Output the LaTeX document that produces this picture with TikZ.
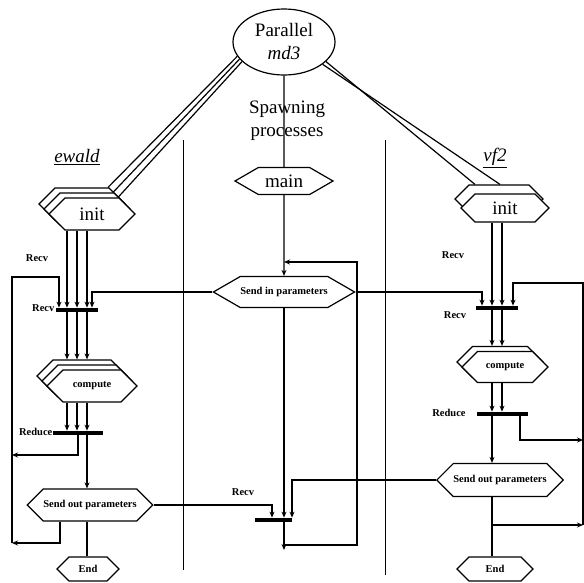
\documentclass[tikz,border=0pt]{standalone}
\usepackage{fontspec}
\setmainfont{Liberation Serif}
\usetikzlibrary{shapes.symbols, shapes.geometric, arrows.meta}
\newcommand{\largetxt}{\fontsize{19}{23}\selectfont}
\newcommand{\smalltxt}{\fontsize{10.5}{12}\selectfont\bfseries}

\begin{document}
\begin{tikzpicture}[x=1pt, y=-1pt, line width=1.2pt]
    \tikzstyle{arrow} = [-{Stealth[length=6pt,width=5pt]}]
    \tikzstyle{proc} = [signal, signal to=west and east, draw=black, fill=white, inner sep=0pt, line width=1.2pt]
    \tikzstyle{bar} = [rectangle, fill=black, draw=none, minimum height=3.5pt, inner sep=0pt]
    \tikzstyle{lbl} = [font=\smalltxt, inner sep=1pt]
    \useasboundingbox (0,0) rectangle (584,582);

    % processes
    \node[ellipse, draw=black, line width=1.2pt, minimum width=102pt, minimum height=66pt, inner sep=0pt, align=center, font=\largetxt](md3) at (284,42) {Parallel\\\textit{md3}};
    \node[align=center, font=\largetxt, inner sep=0pt](spawn) at (287,121) {Spawning\\processes};
    \node[font=\largetxt\itshape](ewald) at (77,157) {\underline{ewald}};
    \node[font=\largetxt\itshape](vf2) at (495,158) {\underline{vf2}};

    % separators
    \draw[line width=0.9pt] (183,140) -- (183,570);
    \draw[line width=0.9pt] (385,140) -- (385,575);

    % ewald column
    \node[proc, minimum width=86pt, minimum height=32pt](initLa) at (82,204) {};
    \node[proc, minimum width=86pt, minimum height=32pt](initLb) at (87,209) {};
    \node[proc, minimum width=86pt, minimum height=32pt, font=\largetxt](initLc) at (92,214) {init};
    \node[proc, minimum width=90pt, minimum height=32pt](computeLa) at (82,376) {};
    \node[proc, minimum width=90pt, minimum height=32pt](computeLb) at (87,381) {};
    \node[proc, minimum width=90pt, minimum height=32pt, font=\smalltxt](computeLc) at (92,386) {compute};
    \node[proc, minimum width=118pt, minimum height=32pt, font=\smalltxt](sendoutL) at (90,505) {Send out parameters};
    \node[proc, minimum width=62pt, minimum height=24pt, font=\smalltxt](endL) at (88,569) {End};
    \node[bar, minimum width=42pt](recvL) at (77,310) {};
    \node[bar, minimum width=50pt](reduceL) at (78,433) {};

    % main column
    \node[proc, signal pointer angle=60, minimum width=98pt, minimum height=27pt, font=\largetxt](main) at (284,181) {main};
    \node[proc, signal pointer angle=60, minimum width=136pt, minimum height=31pt, font=\smalltxt](sendin) at (284,292) {Send in parameters};
    \node[bar, minimum width=37pt](recvC) at (273,520) {};

    % vf2 column
    \node[proc, minimum width=88pt, minimum height=28pt](initRa) at (499,199) {};
    \node[proc, minimum width=88pt, minimum height=28pt, font=\largetxt](initRb) at (505,208) {init};
    \node[proc, minimum width=86pt, minimum height=31pt](computeRa) at (500,362) {};
    \node[proc, minimum width=86pt, minimum height=31pt, font=\smalltxt](computeRb) at (505,367) {compute};
    \node[proc, minimum width=120pt, minimum height=33pt, font=\smalltxt](sendoutR) at (500,480) {Send out parameters};
    \node[proc, minimum width=76pt, minimum height=24pt, font=\smalltxt](endR) at (495,569) {End};
    \node[bar, minimum width=42pt](recvR) at (497,308) {};
    \node[bar, minimum width=51pt](reduceR) at (502,414) {};

    % labels
    \node[lbl](lrecvL1) at (37,258) {Recv};
    \node[lbl, anchor=east](lrecvL2) at (56,308) {Recv};
    \node[lbl, anchor=east](lreduceL) at (54,432) {Reduce};
    \node[lbl](lrecvC) at (243,492) {Recv};
    \node[lbl](lrecvR1) at (453,255) {Recv};
    \node[lbl](lrecvR2) at (455,315) {Recv};
    \node[lbl](lreduceR) at (449,413) {Reduce};

    % columns and levels
    \coordinate (cL0) at (59,0);
    \coordinate (cL1) at (67,0);
    \coordinate (cL2) at (77,0);
    \coordinate (cL3) at (87,0);
    \coordinate (cL4) at (92,0);
    \coordinate (cLred) at (78,0);
    \coordinate (cLsend) at (60,0);
    \coordinate (loopL) at (12,0);
    \coordinate (cC1) at (272,0);
    \coordinate (cC3) at (292,0);
    \coordinate (loopC) at (357,0);
    \coordinate (cR0) at (482,0);
    \coordinate (cR1) at (492,0);
    \coordinate (cR2) at (502,0);
    \coordinate (cR3) at (513,0);
    \coordinate (cRred) at (520,0);
    \coordinate (loopR) at (583,0);
    \coordinate (yLtop) at (0,277);
    \coordinate (yLred) at (0,455);
    \coordinate (yLbot) at (0,543);
    \coordinate (yCtop) at (0,262);
    \coordinate (yCbot) at (0,545);
    \coordinate (yCend) at (0,550);
    \coordinate (yRtop) at (0,283);
    \coordinate (yRred) at (0,440);
    \coordinate (yRbot) at (0,525);

    % spawning
    \draw (md3) -- (main);
    \draw (md3.197) -- ([xshift=26pt]initLa.north);
    \draw (md3.201) -- ([xshift=26pt]initLb.north);
    \draw (md3.205) -- ([xshift=26pt]initLc.north);
    \draw (md3.-25) -- ([xshift=-24pt]initRa.north);
    \draw (md3.-30) -- ([xshift=1pt]initRa.north);

    % ewald flow
    \foreach \c in {cL1,cL2,cL3} {
        \draw[arrow] (initLc.south -| \c) -- (recvL.north -| \c);
        \draw[arrow] (recvL.south -| \c) -- (computeLa.north -| \c);
        \draw[arrow] (computeLc.south -| \c) -- (reduceL.north -| \c);
    }
    \draw[arrow] (loopL |- yLbot) -- (loopL |- yLtop) -| (recvL.north -| cL0);
    \draw[arrow] (reduceL.south -| cLred) |- (loopL |- yLred);
    \draw[arrow] (reduceL.south -| cL3) -- (sendoutL.north -| cL3);
    \draw[arrow] (sendoutL.south -| cLsend) |- (loopL |- yLbot);
    \draw (sendoutL.south -| cL3) -- (endL.north -| cL3);

    % main flow
    \draw[arrow] (main) -- (sendin);
    \draw[arrow] (sendin.west) -| (recvL.north -| cL4);
    \draw[arrow] (sendin.east) -| (recvR.north -| cR0);
    \draw[arrow] (sendin.south) -- (recvC.north -| sendin.south);
    \draw[arrow] (recvC.south -| sendin.south) -- (sendin.south |- yCend);
    \draw[arrow] (sendin.south |- yCbot) -| (loopC |- yCtop) -- (sendin.north |- yCtop);
    \draw[arrow] (sendoutL.east) -| (recvC.north -| cC1);
    \draw[arrow] (sendoutR.west) -| (recvC.north -| cC3);

    % vf2 flow
    \foreach \c in {cR1,cR2} {
        \draw[arrow] (initRb.south -| \c) -- (recvR.north -| \c);
        \draw[arrow] (recvR.south -| \c) -- (computeRa.north -| \c);
        \draw[arrow] (computeRb.south -| \c) -- (reduceR.north -| \c);
    }
    \draw[arrow] (loopR |- yRbot) -- (loopR |- yRtop) -| (recvR.north -| cR3);
    \draw[arrow] (reduceR.south -| cRred) |- (loopR |- yRred);
    \draw[arrow] (reduceR.south -| cR1) -- (sendoutR.north -| cR1);
    \draw (sendoutR.south -| cR1) -- (endR.north -| cR1);
    \draw[arrow] (cR1 |- yRbot) -- (loopR |- yRbot);
\end{tikzpicture}
\end{document}
